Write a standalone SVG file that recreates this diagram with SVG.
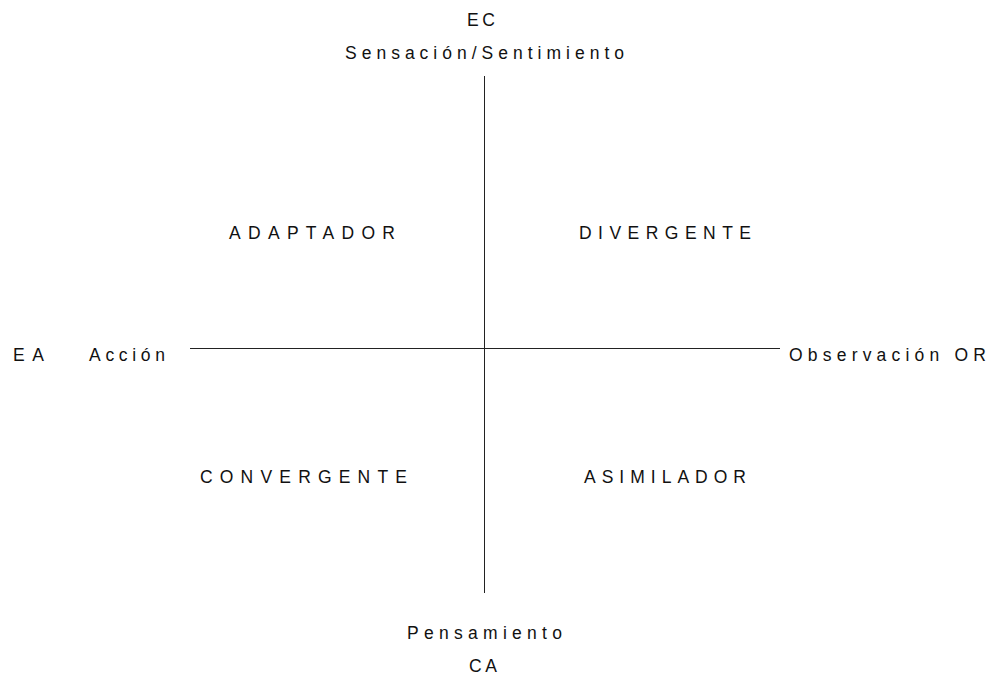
<svg xmlns="http://www.w3.org/2000/svg" width="995" height="679" viewBox="0 0 995 679">
<style>
text{font-family:"Liberation Sans",Arial,sans-serif;font-size:17.5px;fill:#111;}
.ax{stroke:#222;stroke-width:1;fill:none;}
</style>
<rect width="995" height="679" fill="#fff"/>
<g id="connectors">
<line class="ax" x1="484.5" y1="76" x2="484.5" y2="593"/>
<line class="ax" x1="190" y1="348.5" x2="780" y2="348.5"/>
</g>
<g id="top">
<text x="467" y="26" textLength="28" lengthAdjust="spacing">EC</text>
<text x="345" y="59" textLength="279" lengthAdjust="spacing">Sensación/Sentimiento</text>
</g>
<g id="left">
<text x="13" y="361" textLength="31" lengthAdjust="spacing">EA</text>
<text x="89" y="361" textLength="76" lengthAdjust="spacing">Acción</text>
</g>
<g id="right">
<text x="789" y="361" textLength="197" lengthAdjust="spacing">Observación OR</text>
</g>
<g id="bottom">
<text x="407" y="639" textLength="155" lengthAdjust="spacing">Pensamiento</text>
<text x="469" y="672" textLength="28" lengthAdjust="spacing">CA</text>
</g>
<g id="adaptador"><text x="229" y="239" textLength="166" lengthAdjust="spacing">ADAPTADOR</text></g>
<g id="divergente"><text x="579" y="239" textLength="172" lengthAdjust="spacing">DIVERGENTE</text></g>
<g id="convergente"><text x="200" y="483" textLength="207" lengthAdjust="spacing">CONVERGENTE</text></g>
<g id="asimilador"><text x="584" y="483" textLength="162" lengthAdjust="spacing">ASIMILADOR</text></g>
</svg>
